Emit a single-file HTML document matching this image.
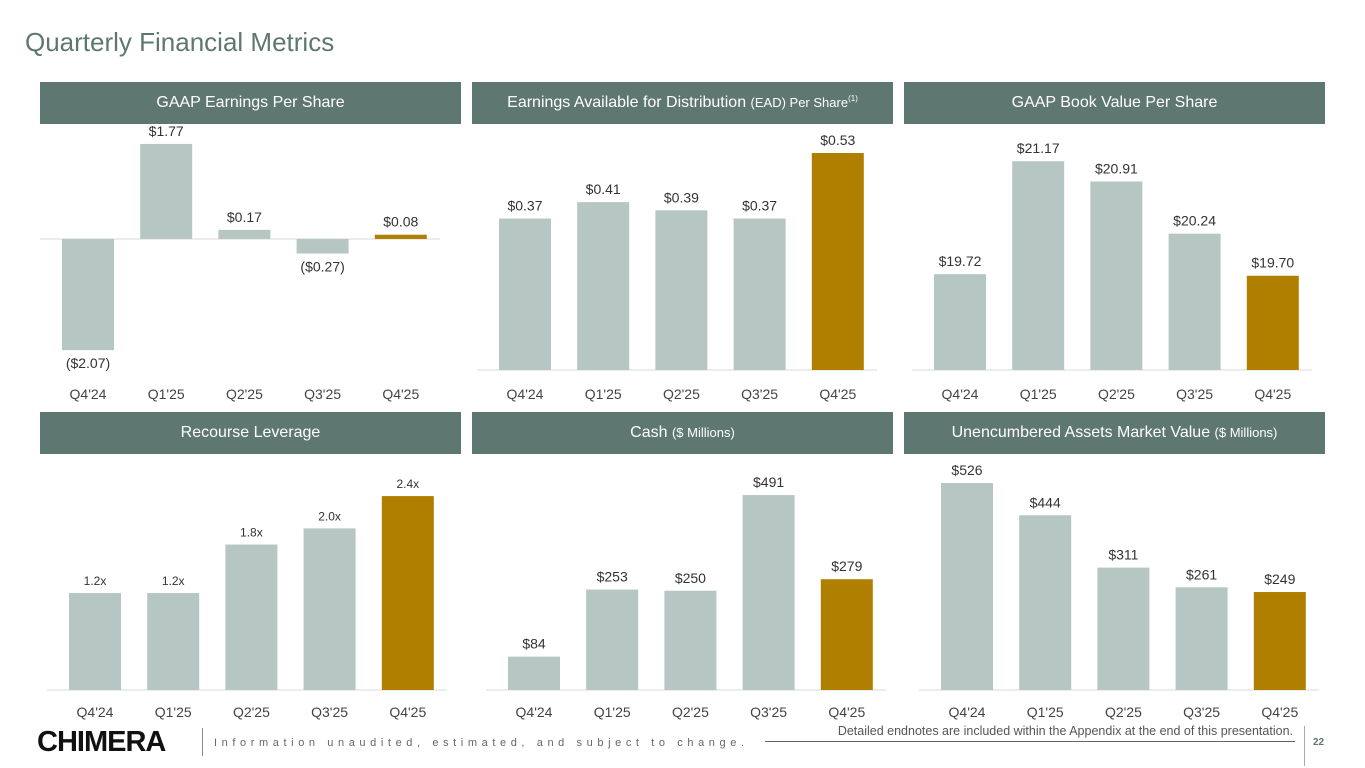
<!DOCTYPE html>
<html><head><meta charset="utf-8">
<style>
body{margin:0;width:1365px;height:768px;background:#fff;font-family:"Liberation Sans",sans-serif;position:relative;overflow:hidden}
.title{position:absolute;left:25px;top:27px;font-size:26px;color:#5e7771}
.hdr{position:absolute;height:42px;background:#5e7771;color:#fff;font-size:16px;line-height:42px;text-align:center;white-space:nowrap}
.hdr small{font-size:13px}
.hdr sup{font-size:8px;line-height:0;vertical-align:6px}
svg{position:absolute;left:0;top:0}
.foot{position:absolute;font-size:12px;color:#555;white-space:nowrap}
</style></head><body>
<div class="title">Quarterly Financial Metrics</div>
<div class="hdr" style="left:40px;top:82px;width:421px">GAAP Earnings Per Share</div>
<div class="hdr" style="left:472px;top:82px;width:421px">Earnings Available for Distribution <small>(EAD) Per Share</small><sup>(1)</sup></div>
<div class="hdr" style="left:904px;top:82px;width:421px">GAAP Book Value Per Share</div>
<div class="hdr" style="left:40px;top:412px;width:421px">Recourse Leverage</div>
<div class="hdr" style="left:472px;top:412px;width:421px">Cash <small>($ Millions)</small></div>
<div class="hdr" style="left:904px;top:412px;width:421px">Unencumbered Assets Market Value <small>($ Millions)</small></div>
<svg id="chart" width="1365" height="768"></svg>
<div class="foot" style="left:37px;top:726px;font-size:29px;font-weight:bold;color:#111;letter-spacing:-1px">CHIMERA</div>
<div style="position:absolute;left:202px;top:728px;width:1px;height:28px;background:#888"></div>
<div class="foot" style="left:214px;top:737px;letter-spacing:4.6px;font-size:11px;color:#666">Information unaudited, estimated, and subject to change.</div>
<div style="position:absolute;left:765px;top:741px;width:530px;height:1px;background:#666"></div>
<div class="foot" style="right:72px;top:724px;font-size:12.5px">Detailed endnotes are included within the Appendix at the end of this presentation.</div>
<div style="position:absolute;left:1304px;top:726px;width:1px;height:40px;background:#aaa"></div>
<div class="foot" style="left:1313px;top:737px;font-size:10px;font-weight:bold;color:#5e7771">22</div>
<script>
const categories=["Q4'24","Q1'25","Q2'25","Q3'25","Q4'25"];
const epsValues=[-2.07,1.77,0.17,-0.27,0.08];
const epsLabels=["($2.07)","$1.77","$0.17","($0.27)","$0.08"];
const eadValues=[0.37,0.41,0.39,0.37,0.53];
const eadLabels=["$0.37","$0.41","$0.39","$0.37","$0.53"];
const bvValues=[19.72,21.17,20.91,20.24,19.70];
const bvLabels=["$19.72","$21.17","$20.91","$20.24","$19.70"];
const levValues=[1.2,1.2,1.8,2.0,2.4];
const levLabels=["1.2x","1.2x","1.8x","2.0x","2.4x"];
const cashValues=[84,253,250,491,279];
const cashLabels=["$84","$253","$250","$491","$279"];
const unencValues=[526,444,311,261,249];
const unencLabels=["$526","$444","$311","$261","$249"];
const NS="http://www.w3.org/2000/svg";
const svg=document.getElementById('chart');
function mk(t,a){const e=document.createElementNS(NS,t);for(const k in a)e.setAttribute(k,a[k]);svg.appendChild(e);return e;}
function panel(name,x0,base,pxPer,minV,vals,labs,axisY,small){
  const step=78.2,bw=52,c0=x0+48;
  const ln=mk('line',{x1:x0,x2:x0+400,y1:base,y2:base,stroke:'#d9d9d9','stroke-width':1});
  
  
  vals.forEach((v,i)=>{
    const cx=c0+i*step;
    const y=base-(v-minV)*pxPer;
    const top=Math.min(y,base),h=Math.abs(y-base);
    const r=mk('rect',{x:cx-bw/2,y:top,width:bw,height:Math.max(h,1),fill:i==4?'#b07f00':'#b5c6c3'});
    
    
    const ly=v>=0?y-8:y+18;
    const t=mk('text',{x:cx,y:ly,'text-anchor':'middle','font-size':small?12:14,fill:'#333','font-family':'Liberation Sans, sans-serif'});
    t.textContent=labs[i];
    
    
    const a=mk('text',{x:cx,y:axisY,'text-anchor':'middle','font-size':14,fill:'#444','font-family':'Liberation Sans, sans-serif'});
    a.textContent=categories[i];
    
    
  });
}
panel('eps',40,239,53.7,0,epsValues,epsLabels,399);
panel('ead',477,370,409.4,0,eadValues,eadLabels,399);
panel('book-value',912,370,77.9,18.49,bvValues,bvLabels,399);
panel('leverage',47,690,80.8,0,levValues,levLabels,717,true);
panel('cash',486,690,0.397,0,cashValues,cashLabels,717);
panel('unencumbered',919,690,0.3935,0,unencValues,unencLabels,717);
</script>
</body></html>
